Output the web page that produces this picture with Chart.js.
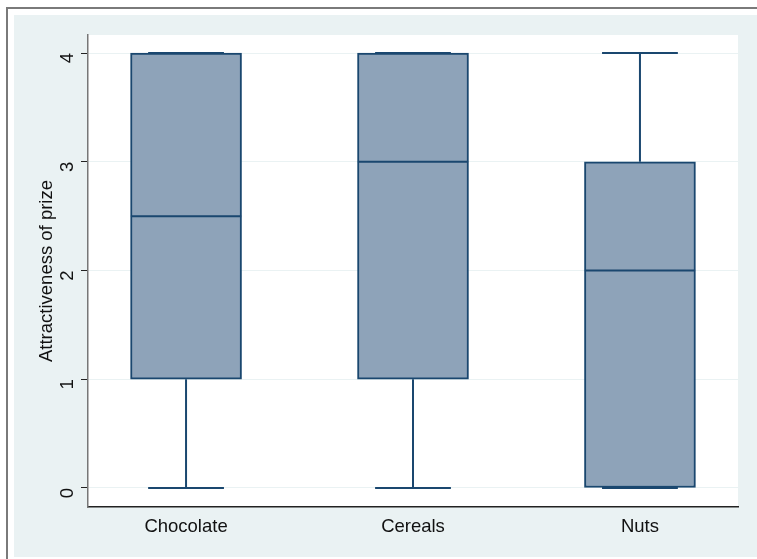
<!DOCTYPE html>
<html>
<head>
<meta charset="utf-8">
<script src="https://cdn.jsdelivr.net/npm/chart.js@4/dist/chart.umd.min.js"></script>
<style>
  html, body { margin: 0; padding: 0; background: #fff; }
  #wrap { width: 757px; height: 559px; }
</style>
</head>
<body>
<div id="wrap"><canvas id="c" width="757" height="559"></canvas></div>
<script>
// Box plot, Stata s2color look: boxes as floating bars, whiskers/medians as line segments.
const CATS = ['Chocolate', 'Cereals', 'Nuts'];
const MINS = [0, 0, 0];
const Q1 = [1, 1, 0];
const MEDIANS = [2.5, 3, 2];
const Q3 = [4, 4, 3];
const MAXS = [4, 4, 4];
const Y_TICKS = [0, 1, 2, 3, 4];

const NAVY = '#1a476f', FILL = '#8ea3b9', BG = '#eaf2f3', FONT = "'Liberation Sans', Arial, sans-serif";
const BOX_HALF = 0.243, CAP_HALF = 0.167;

const pos = CATS.map((c, i) => i + 1);
const boxes = pos.map((x, i) => ({ x, y: [Q1[i], Q3[i]] }));
const whiskers = [], medians = [];
pos.forEach((x, i) => {
  whiskers.push({ x, y: Q1[i] }, { x, y: MINS[i] }, { x: x - CAP_HALF, y: MINS[i] }, { x: x + CAP_HALF, y: MINS[i] }, { x, y: null });
  whiskers.push({ x, y: Q3[i] }, { x, y: MAXS[i] }, { x: x - CAP_HALF, y: MAXS[i] }, { x: x + CAP_HALF, y: MAXS[i] }, { x, y: null });
  medians.push({ x: x - BOX_HALF, y: MEDIANS[i] }, { x: x + BOX_HALF, y: MEDIANS[i] }, { x, y: null });
});

const frame = {
  id: 'frame',
  beforeDraw(chart) {
    const { ctx, chartArea: a } = chart;
    ctx.save();
    ctx.fillStyle = '#fff';
    ctx.fillRect(0, 0, 757, 559);
    ctx.fillStyle = '#7a7a7a';
    ctx.fillRect(6, 7, 2, 552);
    ctx.fillRect(6, 7, 751, 2);
    ctx.fillStyle = BG;
    ctx.fillRect(14, 15, 743, 542);
    ctx.fillStyle = '#fff';
    ctx.fillRect(a.left, a.top, a.right - a.left, a.bottom - a.top);
    ctx.restore();
  },
};

const lineDs = (data) => ({
  type: 'line', data, borderColor: NAVY, borderWidth: 2, pointRadius: 0,
  spanGaps: false, fill: false, order: 0, borderCapStyle: 'butt',
});

new Chart(document.getElementById('c'), {
  type: 'bar',
  data: {
    datasets: [
      { data: boxes, backgroundColor: FILL, borderColor: NAVY, borderWidth: 2, borderSkipped: false, barThickness: 111, order: 1 },
      lineDs(whiskers),
      lineDs(medians),
    ],
  },
  plugins: [frame],
  options: {
    responsive: false,
    animation: false,
    layout: { padding: { top: 35, right: 19, left: 14 } },
    plugins: { legend: { display: false }, tooltip: { enabled: false } },
    scales: {
      x: {
        type: 'linear', min: 0.568, max: 3.432, offset: false,
        afterBuildTicks: (s) => { s.ticks = pos.map((v) => ({ value: v })); },
        afterFit: (s) => { s.height = 52; },
        grid: { display: false },
        border: { color: '#222', width: 1.5 },
        ticks: { callback: (v) => CATS[v - 1], color: '#111', font: { family: FONT, size: 18.5 }, padding: 1, maxRotation: 0 },
      },
      y: {
        min: -0.175, max: 4.166,
        afterBuildTicks: (s) => { s.ticks = Y_TICKS.map((v) => ({ value: v })); },
        afterFit: (s) => { s.width = 74; },
        grid: { color: BG, lineWidth: 1, tickColor: '#222', tickLength: 7 },
        border: { color: '#777', width: 1.5 },
        ticks: { color: '#111', font: { family: FONT, size: 18.5 }, minRotation: 90, maxRotation: 90, padding: 13 },
        title: { display: true, text: 'Attractiveness of prize', color: '#111', font: { family: FONT, size: 18.5 }, padding: { top: 22 } },
      },
    },
  },
});
</script>
</body>
</html>
